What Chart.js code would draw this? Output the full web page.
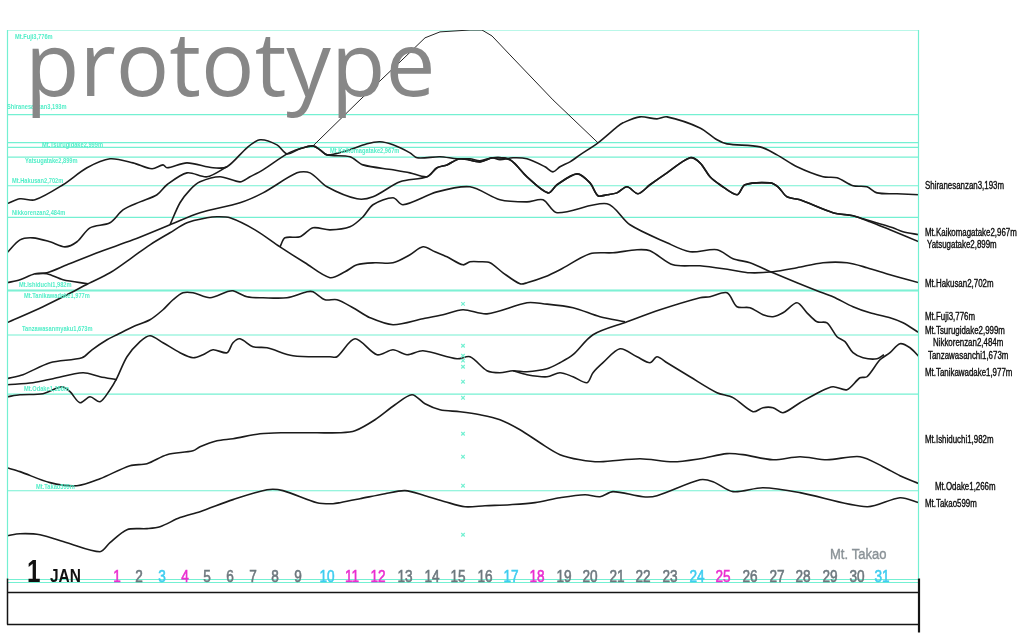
<!DOCTYPE html>
<html>
<head>
<meta charset="utf-8">
<title>prototype - 1 JAN</title>
<script src="https://cdn.jsdelivr.net/npm/chart.js@4.4.1/dist/chart.umd.min.js"></script>
<style>
  html, body { margin: 0; padding: 0; background: #fff; }
  #wrap { width: 1024px; height: 637px; }
</style>
</head>
<body>
<div id="wrap"><canvas id="myChart" width="1024" height="637"></canvas></div>
<script>
// ridge profiles: [position along the strip, elevation m]
var ridgeShirane = [[0,2578],[13,2612],[28,2605],[56,2709],[80,2826],[103,2888],[126,2860],[145,2819],[156,2846],[160,2826],[180,2860],[206,2826],[220,2833],[240,2964],[253,3019],[270,2984],[280,2922],[293,2957],[306,2977],[313,2950],[320,2915],[336,2936],[360,2991],[373,3005],[386,2984],[403,2929],[410,2895],[433,2902],[450,2888],[463,2888],[473,2874],[485,2895],[493,2881],[506,2895],[520,2888],[538,2833],[546,2798],[553,2833],[563,2867],[573,2915],[591,2998],[610,3108],[616,3136],[633,3177],[650,3163],[660,3177],[693,3101],[710,3019],[720,2991],[753,2970],[770,2915],[790,2833],[816,2764],[830,2757],[846,2702],[860,2695],[870,2653],[890,2647],[912,2640]];
var ridgeYatsuWest = [[0,2240],[13,2329],[26,2343],[43,2316],[58,2281],[70,2316],[83,2412],[103,2447],[116,2536],[133,2591],[150,2640],[160,2709],[180,2791],[200,2764],[220,2833]];
var ridgeKaikoma = [[163,2433],[173,2585],[183,2674],[193,2729],[213,2764],[233,2729],[243,2764],[256,2812],[280,2922],[293,2957],[306,2977],[313,2950],[320,2915],[343,2902],[356,2846],[386,2812],[403,2791],[420,2764],[430,2826],[440,2846],[453,2888],[473,2867],[486,2895],[503,2881],[520,2764],[541,2653],[550,2709],[570,2784],[583,2722],[591,2633],[600,2640],[610,2653],[620,2695],[631,2647],[643,2709],[660,2791],[683,2895],[693,2860],[703,2764],[713,2709],[730,2640],[738,2709],[763,2722],[771,2695],[780,2626],[793,2605],[826,2516],[846,2495],[856,2474],[886,2412],[896,2385],[912,2364]];
var ridgeYatsugatake = [[0,2033],[13,2054],[28,2095],[40,2102],[60,2157],[93,2247],[126,2329],[163,2433],[193,2516],[233,2585],[256,2653],[290,2791],[303,2791],[320,2695],[350,2612],[366,2626],[393,2729],[420,2764],[430,2826],[440,2846],[453,2888],[473,2867],[486,2895],[503,2881],[520,2764],[541,2653],[550,2709],[570,2784],[583,2722],[591,2633],[600,2640],[610,2653],[620,2695],[631,2647],[643,2709],[660,2791],[683,2895],[693,2860],[703,2764],[713,2709],[730,2640],[738,2709],[763,2722],[771,2695],[780,2626],[793,2605],[826,2516],[846,2495],[863,2454],[883,2398],[912,2316]];
var ridgeSpur = [[28,2095],[40,2095],[56,2054],[81,2026]];
var ridgeHakusan = [[0,1757],[36,1868],[60,1950],[81,2026],[103,2102],[126,2212],[143,2295],[163,2378],[180,2447],[200,2481],[210,2488],[223,2481],[248,2398],[273,2281],[298,2171],[323,2068],[338,2109],[350,2157],[368,2171],[386,2171],[403,2226],[416,2281],[428,2247],[440,2212],[456,2157],[463,2178],[473,2178],[483,2171],[496,2102],[513,2026],[520,2033],[538,2074],[553,2123],[583,2233],[606,2240],[630,2261],[643,2254],[666,2157],[693,2150],[723,2123],[743,2102],[766,2109],[790,2137],[816,2171],[840,2171],[860,2137],[883,2088],[912,2033]];
var ridgeTsurugi = [[273,2281],[278,2343],[293,2350],[306,2412],[323,2398],[343,2419],[356,2488],[366,2571],[386,2619],[396,2571],[430,2660],[463,2695],[493,2605],[520,2591],[536,2605],[550,2516],[600,2578],[623,2433],[660,2309],[683,2247],[710,2261],[726,2199],[743,2171],[766,2102],[790,2033],[810,1978],[826,1937],[846,1868],[863,1826],[883,1792],[896,1757],[912,1689]];
var ridgeFuji = [[306,2977],[353,3294],[393,3556],[418,3722],[433,3763],[463,3776],[475,3776],[485,3735],[503,3604],[546,3294],[591,2998]];
var ridgeTanikawa = [[0,1372],[16,1399],[43,1482],[75,1516],[85,1571],[100,1640],[110,1675],[126,1730],[143,1778],[156,1847],[166,1916],[176,1964],[186,1964],[203,1930],[220,1971],[226,1978],[240,1937],[256,1930],[280,1930],[300,1971],[306,1971],[318,1916],[330,1916],[346,1861],[363,1792],[386,1744],[416,1785],[436,1813],[456,1847],[480,1819],[520,1895],[536,1889],[566,1861],[593,1799],[618,1764]];
var ridgeNikko = [[0,1330],[26,1344],[46,1372],[76,1413],[93,1385],[110,1365]];
var ridgeTanzawa = [[0,1247],[13,1261],[36,1268],[55,1316],[63,1282],[73,1206],[83,1247],[93,1213],[103,1296],[110,1378],[120,1523],[133,1627],[143,1668],[156,1620],[173,1551],[186,1516],[196,1537],[206,1571],[220,1551],[226,1620],[233,1647],[246,1592],[260,1585],[286,1530],[323,1523],[330,1523],[348,1647],[370,1537],[386,1571],[400,1537],[416,1564],[450,1509],[463,1523],[480,1427],[493,1413],[506,1427],[520,1420],[540,1440],[553,1482],[566,1537],[586,1675],[620,1764],[653,1847],[693,1930],[703,1937],[720,1964],[730,1868],[743,1861],[756,1813],[766,1799],[776,1826],[790,1895],[800,1826],[810,1764],[820,1757],[830,1661],[838,1627],[846,1551],[856,1516],[870,1509],[877,1537]];
var ridgeTanzawaEast = [[506,1427],[520,1399],[540,1385],[553,1413],[566,1385],[580,1344],[586,1413],[596,1482],[613,1578],[630,1523],[643,1482],[650,1523],[660,1482],[683,1385],[710,1275],[726,1241],[746,1144],[756,1172],[766,1172],[776,1137],[793,1206],[813,1282],[826,1316],[840,1296],[853,1378],[860,1385],[873,1502],[883,1551],[893,1613],[903,1585],[912,1523]];
var ridgeOdake = [[0,758],[13,731],[43,655],[70,634],[93,682],[123,772],[140,786],[160,848],[186,875],[193,903],[210,944],[226,958],[253,992],[276,999],[310,999],[333,999],[348,1013],[368,1089],[388,1192],[405,1261],[418,1199],[433,1158],[453,1144],[473,1123],[493,1089],[513,1020],[533,930],[553,848],[573,813],[593,799],[633,820],[666,799],[693,820],[720,855],[736,848],[766,813],[793,834],[820,813],[853,834],[876,765],[893,703],[912,648]];
var ridgeTakao = [[0,289],[13,303],[33,296],[60,241],[93,179],[103,241],[120,331],[140,338],[153,351],[173,414],[193,455],[226,538],[260,606],[276,600],[310,517],[326,510],[333,517],[353,544],[378,579],[398,600],[418,565],[438,524],[458,489],[478,496],[503,503],[528,517],[553,551],[578,572],[593,558],[606,593],[636,558],[650,565],[693,675],[706,662],[726,593],[756,620],[793,586],[860,489],[893,551],[912,517]];

// reference heights (cyan lines) and their names
var peakNames = ['Mt.Fuji3,776m', 'Shiranesanzan3,193m', 'Mt.Tsurugidake2,999m', 'Mt.Kaikomagatake2,967m', 'Yatsugatake2,899m', 'Mt.Hakusan2,702m', 'Nikkorenzan2,484m', 'Mt.Ishiduchi1,982m', 'Mt.Tanikawadake1,977m', 'Tanzawasanmyaku1,673m', 'Mt.Odake1,266m', 'Mt.Takao599m'];
var peakHeights = [3776, 3193, 2999, 2967, 2899, 2702, 2484, 1982, 1977, 1673, 1266, 599];

// names at the right end
var endNames = ['Shiranesanzan3,193m', 'Mt.Kaikomagatake2,967m', 'Yatsugatake2,899m', 'Mt.Hakusan2,702m', 'Mt.Fuji3,776m', 'Mt.Tsurugidake2,999m', 'Nikkorenzan2,484m', 'Tanzawasanchi1,673m', 'Mt.Tanikawadake1,977m', 'Mt.Ishiduchi1,982m', 'Mt.Odake1,266m', 'Mt.Takao599m'];

// small marks on the centre line
var markPos = 456;
var markHeights = [1888, 1599, 1530, 1496, 1454, 1351, 1240, 992, 834, 634, 296];

// calendar
var days = [1,2,3,4,5,6,7,8,9,10,11,12,13,14,15,16,17,18,19,20,21,22,23,24,25,26,27,28,29,30,31];
var dayPos = [110,132,155,178,200,223,246,268,291,320,345,371,398,425,451,478,504,530,557,583,610,636,663,690,716,743,770,796,823,850,875];
var saturdays = [3,10,17,24,31];
var sundays = [4,11,18,25];
var holidays = [1,12];

var CYAN = '#74f0d2';
var INK = '#1b1b1b';

// layout bits for the text (px)
var peakLabelX = [8, 0, 35, 323, 18, 5, 5, 12, 17, 15, 17, 29];
var peakLabelDy = [7, -8, 2, 4, 4, -5, -4, -5, 5, -6, -5, -4];
var endLabelX = [925, 925, 927, 925, 925, 925, 933, 928, 925, 925, 935, 925];
var endLabelY = [186, 233, 245, 284, 317, 331, 343, 356, 373, 440, 487, 504];

var SANS = '"Liberation Sans", Arial, sans-serif';

function ridge(pts, width) {
  return { data: pts, borderColor: INK, borderWidth: width || 1.6, pointRadius: 0, tension: 0.3, fill: false, order: 1 };
}

var datasets = [
  ridge(ridgeShirane), ridge(ridgeYatsuWest), ridge(ridgeKaikoma), ridge(ridgeYatsugatake),
  ridge(ridgeSpur), ridge(ridgeHakusan), ridge(ridgeTsurugi),
  { data: ridgeFuji, borderColor: '#222', borderWidth: 1, pointRadius: 0, tension: 0, order: 1 },
  ridge(ridgeTanikawa), ridge(ridgeNikko), ridge(ridgeTanzawa), ridge(ridgeTanzawaEast),
  ridge(ridgeOdake), ridge(ridgeTakao),
  {
    data: markHeights.map(function (h) { return [markPos, h]; }),
    showLine: false, pointStyle: 'crossRot', pointRadius: 2.5, borderColor: CYAN, borderWidth: 1.2, order: 0
  }
];
peakHeights.forEach(function (h) {
  datasets.push({ data: [[0, h], [912, h]], borderColor: CYAN, borderWidth: 1.2, pointRadius: 0, tension: 0, order: 2 });
});

function dayColor(d) {
  if (holidays.indexOf(d) >= 0 || sundays.indexOf(d) >= 0) return '#ea2fd0';
  if (saturdays.indexOf(d) >= 0) return '#3fcdf0';
  return '#6d787e';
}

// condensed text: squeeze a normal face sideways, optional outline to thicken it
function narrowText(c, text, x, y, sx, align, thick) {
  c.save();
  c.translate(x, y);
  c.scale(sx, 1);
  c.textAlign = align || 'left';
  c.fillText(text, 0, 0);
  if (thick) {
    c.strokeStyle = c.fillStyle;
    c.lineWidth = thick;
    c.strokeText(text, 0, 0);
  }
  c.restore();
}

var calendarText = {
  id: 'calendarText',
  afterDraw: function (chart) {
    var c = chart.ctx, a = chart.chartArea;
    var xs = chart.scales.x, ys = chart.scales.y;
    var zeroY = Math.round(ys.getPixelForValue(0)) + 0.5;
    c.save();

    // cyan frame + double base line
    c.strokeStyle = CYAN; c.lineWidth = 1.2;
    c.beginPath();
    c.moveTo(a.left + 0.5, a.top); c.lineTo(a.left + 0.5, zeroY);
    c.moveTo(a.right - 0.5, a.top); c.lineTo(a.right - 0.5, zeroY);
    c.moveTo(a.left, zeroY + 1); c.lineTo(a.right, zeroY + 1);
    c.moveTo(a.left, zeroY + 4); c.lineTo(a.right, zeroY + 4);
    c.stroke();

    // black box under the strip
    c.strokeStyle = '#151515'; c.lineWidth = 1.5;
    c.beginPath();
    c.moveTo(a.left + 0.5, zeroY); c.lineTo(a.left + 0.5, zeroY + 46);
    c.moveTo(a.left, zeroY + 14); c.lineTo(a.right, zeroY + 14);
    c.moveTo(a.left, zeroY + 46); c.lineTo(a.right, zeroY + 46);
    c.stroke();
    c.lineWidth = 2.2;
    c.beginPath();
    c.moveTo(a.right, zeroY); c.lineTo(a.right, zeroY + 54);
    c.stroke();

    // cyan names on the reference lines
    c.fillStyle = '#52eec8';
    c.font = 'bold 7.5px ' + SANS;
    c.textBaseline = 'middle';
    peakNames.forEach(function (n, i) {
      narrowText(c, n, xs.getPixelForValue(peakLabelX[i]), ys.getPixelForValue(peakHeights[i]) + peakLabelDy[i], 0.76);
    });

    // names at the right
    c.fillStyle = '#0d0d0d';
    c.font = '10px ' + SANS;
    endNames.forEach(function (n, i) {
      narrowText(c, n, endLabelX[i], endLabelY[i], 0.79, 'left', 0.35);
    });

    // big title
    c.fillStyle = '#878787';
    c.font = '89px "Open Sans", sans-serif';
    c.textBaseline = 'alphabetic';
    c.textAlign = 'left';
    c.fillText('prototype', 25, 96);

    // date row
    var baseY = zeroY + 3;
    c.fillStyle = '#111';
    c.font = 'bold 31px ' + SANS;
    narrowText(c, '1', 27, baseY, 0.78);
    c.font = 'bold 18px ' + SANS;
    narrowText(c, 'JAN', 50, baseY, 0.86);

    c.font = '17px ' + SANS;
    days.forEach(function (d, i) {
      c.fillStyle = dayColor(d);
      narrowText(c, String(d), xs.getPixelForValue(dayPos[i]), baseY, 0.8, 'center', 0.6);
    });

    c.fillStyle = '#8a9297';
    c.font = '15.5px ' + SANS;
    narrowText(c, 'Mt. Takao', 830, 559, 0.84, 'left', 0.4);
    c.restore();
  }
};

var ctx = document.getElementById('myChart').getContext('2d');

var myChart = new Chart(ctx, {
  type: 'line',
  data: { datasets: datasets },
  options: {
    responsive: false,
    animation: false,
    devicePixelRatio: 1,
    layout: { padding: { left: 7, right: 105, top: 30, bottom: 55 } },
    plugins: { legend: { display: false }, tooltip: { enabled: false } },
    scales: {
      x: { type: 'linear', min: 0, max: 912, display: false },
      y: { min: -30, max: 3776, display: false }
    }
  },
  plugins: [calendarText]
});
</script>
</body>
</html>
